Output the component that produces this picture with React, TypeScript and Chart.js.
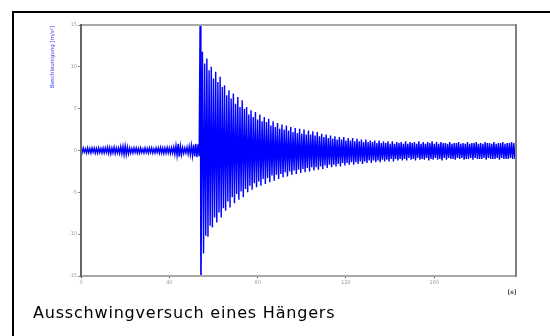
import React, { useEffect, useRef } from "react";
import { Chart, registerables } from "chart.js";

Chart.register(...registerables);

// Time axis [s] and acceleration axis [m/s²]
const xTickValues = [0, 40, 80, 120, 160];
const yTickValues = [-15, -10, -5, 0, 5, 10, 15];
const xMin = 0;
const xMax = 197;
const yMin = -15;
const yMax = 15;

// One oscillation cycle per second: upper peak at t, lower peak at t + 0.5
const sampleInterval = 1;

// Background noise before the excitation, t = 0 … 53 s
const preStart = 0;
const preUpper = [
  0.2, 0.3, 0.2, 0.3, 0.25, 0.3, 0.3, 0.25, 0.3, 0.25,
  0.3, 0.3, 0.4, 0.35, 0.3, 0.4, 0.3, 0.3, 0.45, 0.5,
  0.55, 0.4, 0.3, 0.25, 0.3, 0.3, 0.25, 0.3, 0.2, 0.3,
  0.25, 0.3, 0.3, 0.2, 0.3, 0.3, 0.35, 0.3, 0.3, 0.35,
  0.3, 0.35, 0.4, 0.6, 0.8, 0.55, 0.35, 0.3, 0.4, 0.5,
  0.6, 0.7, 0.8, 0.75,
];
const preLower = [
  -0.25, -0.2, -0.3, -0.25, -0.3, -0.2, -0.3, -0.3, -0.25, -0.3,
  -0.3, -0.25, -0.35, -0.4, -0.3, -0.35, -0.3, -0.35, -0.4, -0.5,
  -0.5, -0.4, -0.3, -0.3, -0.25, -0.3, -0.3, -0.25, -0.3, -0.25,
  -0.3, -0.25, -0.3, -0.3, -0.25, -0.3, -0.3, -0.35, -0.3, -0.3,
  -0.35, -0.3, -0.45, -0.6, -0.75, -0.5, -0.35, -0.3, -0.4, -0.5,
  -0.65, -0.7, -0.8, -0.7,
];

// Excitation impulse (clipped by the axis range)
const impulseTimes = [54, 54.3];
const impulseValues = [18, -18];

// Decaying free vibration, t = 55 … 197 s
const decayStart = 55;
const decayUpper = [
  11.8, 10.4, 11.0, 9.6, 10.0, 8.6, 9.4, 8.2, 8.8, 7.6,
  7.8, 6.6, 7.2, 6.2, 6.8, 5.6, 6.4, 5.2, 6.0, 5.0,
  5.2, 4.3, 4.8, 4.0, 4.6, 3.7, 4.3, 3.5, 4.0, 3.4,
  3.8, 3.0, 3.5, 2.8, 3.3, 2.6, 3.1, 2.5, 3.0, 2.4,
  2.8, 2.2, 2.7, 2.1, 2.6, 2.0, 2.5, 1.9, 2.4, 1.9,
  2.3, 1.8, 2.2, 1.7, 2.0, 1.6, 1.9, 1.5, 1.8, 1.4,
  1.7, 1.3, 1.6, 1.3, 1.6, 1.2, 1.5, 1.2, 1.5, 1.1,
  1.4, 1.1, 1.3, 1.0, 1.3, 1.0, 1.2, 1.0, 1.2, 0.9,
  1.2, 0.9, 1.1, 0.9, 1.1, 0.8, 1.1, 0.8, 1.0, 0.9,
  1.0, 0.8, 1.1, 0.8, 1.0, 0.9, 1.0, 0.8, 1.1, 0.8,
  1.0, 0.8, 1.0, 0.9, 1.1, 0.8, 1.0, 0.8, 1.0, 0.9,
  0.9, 0.8, 1.0, 0.8, 0.9, 0.9, 1.0, 0.8, 0.9, 0.8,
  1.0, 0.8, 0.9, 0.9, 1.0, 0.8, 0.9, 0.8, 1.0, 0.9,
  0.9, 0.8, 1.0, 0.8, 0.9, 0.9, 1.0, 0.8, 0.9, 0.9,
  1.0, 0.9, 0.9,
];
const decayLower = [
  -12.3, -10.2, -10.3, -9.0, -9.2, -8.0, -8.6, -7.4, -8.0, -6.9,
  -7.2, -6.1, -6.8, -5.6, -6.3, -5.2, -5.9, -4.9, -5.6, -4.6,
  -5.0, -4.2, -4.7, -3.9, -4.4, -3.7, -4.2, -3.4, -4.0, -3.3,
  -3.8, -3.0, -3.6, -2.9, -3.4, -2.8, -3.2, -2.6, -3.1, -2.5,
  -2.9, -2.4, -2.8, -2.3, -2.7, -2.2, -2.6, -2.1, -2.5, -2.0,
  -2.4, -2.0, -2.3, -1.9, -2.2, -1.8, -2.1, -1.7, -2.0, -1.7,
  -1.9, -1.6, -1.9, -1.5, -1.8, -1.5, -1.7, -1.4, -1.7, -1.4,
  -1.6, -1.3, -1.6, -1.3, -1.5, -1.2, -1.5, -1.2, -1.4, -1.2,
  -1.4, -1.1, -1.3, -1.1, -1.3, -1.0, -1.3, -1.0, -1.2, -1.0,
  -1.2, -1.0, -1.2, -0.9, -1.1, -1.0, -1.2, -0.9, -1.1, -1.0,
  -1.1, -0.9, -1.2, -1.0, -1.1, -0.9, -1.1, -1.0, -1.2, -0.9,
  -1.1, -0.9, -1.0, -1.0, -1.1, -0.9, -1.0, -0.9, -1.1, -1.0,
  -1.0, -0.9, -1.1, -0.9, -1.0, -1.0, -1.0, -0.9, -1.1, -0.9,
  -1.0, -1.0, -1.0, -0.9, -1.1, -0.9, -1.0, -1.0, -1.0, -0.9,
  -1.0, -1.0, -1.0,
];

const yTitle = "Beschleunigung [m/s²]";
const xUnit = "[s]";
const caption = "Ausschwingversuch eines Hängers";

function buildPoints() {
  const pts: { x: number; y: number }[] = [];
  preUpper.forEach((v, i) => {
    const t = preStart + i * sampleInterval;
    pts.push({ x: t, y: v });
    pts.push({ x: t + sampleInterval / 2, y: preLower[i] });
  });
  impulseTimes.forEach((t, i) => pts.push({ x: t, y: impulseValues[i] }));
  decayUpper.forEach((v, i) => {
    const t = decayStart + i * sampleInterval;
    pts.push({ x: t, y: v });
    pts.push({ x: t + sampleInterval / 2, y: decayLower[i] });
  });
  return pts;
}

const framePlugin = {
  id: "frame",
  afterDraw(chart: any) {
    const { ctx, chartArea } = chart;
    const { left, right, top, bottom } = chartArea;
    ctx.save();
    ctx.lineWidth = 2;
    ctx.strokeStyle = "#a8a8a8";
    ctx.beginPath();
    ctx.moveTo(left, top);
    ctx.lineTo(right, top);
    ctx.moveTo(left, bottom);
    ctx.lineTo(right, bottom);
    ctx.stroke();
    ctx.strokeStyle = "#808080";
    ctx.beginPath();
    ctx.moveTo(right, top - 1);
    ctx.lineTo(right, bottom + 1);
    ctx.stroke();
    ctx.strokeStyle = "#666666";
    ctx.beginPath();
    ctx.moveTo(left, top - 1);
    ctx.lineTo(left, bottom + 1);
    ctx.stroke();

    // y-axis title
    ctx.fillStyle = "#3a3ae8";
    ctx.font = "5.5px 'DejaVu Sans'";
    ctx.textAlign = "center";
    ctx.textBaseline = "middle";
    ctx.translate(53, 57);
    ctx.rotate(-Math.PI / 2);
    ctx.fillText(yTitle, 0, 0);
    ctx.restore();

    // x unit
    ctx.save();
    ctx.fillStyle = "#555555";
    ctx.font = "bold 6px 'DejaVu Sans'";
    ctx.textAlign = "center";
    ctx.textBaseline = "middle";
    ctx.fillText(xUnit, 512, 292);
    ctx.restore();
  },
};

export default function App() {
  const canvasRef = useRef<HTMLCanvasElement | null>(null);

  useEffect(() => {
    if (!canvasRef.current) return;
    const chart = new Chart(canvasRef.current, {
      type: "line",
      data: {
        datasets: [
          {
            data: buildPoints(),
            borderColor: "#0000ff",
            borderWidth: 1.4,
            pointRadius: 0,
            tension: 0,
            fill: false,
          },
        ],
      },
      options: {
        animation: false,
        responsive: false,
        devicePixelRatio: 1,
        layout: { padding: { left: 0, top: 25, right: 34, bottom: 0 } },
        plugins: {
          legend: { display: false },
          tooltip: { enabled: false },
        },
        scales: {
          x: {
            type: "linear",
            min: xMin,
            max: xMax,
            afterBuildTicks: (scale: any) => {
              scale.ticks = xTickValues.map((v) => ({ value: v }));
            },
            afterFit: (scale: any) => {
              scale.height = 60;
            },
            border: { display: false },
            grid: {
              drawOnChartArea: false,
              drawTicks: true,
              tickLength: 2,
              color: "#444444",
            },
            ticks: {
              font: { size: 5, family: "DejaVu Sans" },
              color: "#9a9a9a",
              padding: 2,
              maxRotation: 0,
              autoSkip: false,
            },
          },
          y: {
            type: "linear",
            min: yMin,
            max: yMax,
            afterBuildTicks: (scale: any) => {
              scale.ticks = yTickValues.map((v) => ({ value: v }));
            },
            afterFit: (scale: any) => {
              scale.width = 81;
            },
            border: { display: false },
            grid: {
              drawOnChartArea: false,
              drawTicks: true,
              tickLength: 3,
              color: "#888888",
            },
            ticks: {
              font: { size: 5, family: "DejaVu Sans" },
              color: "#9a9a9a",
              padding: 1,
              autoSkip: false,
            },
          },
        },
      },
      plugins: [framePlugin],
    });
    return () => chart.destroy();
  }, []);

  return (
    <div
      style={{
        position: "fixed",
        left: 0,
        top: 0,
        width: 550,
        height: 336,
        background: "#ffffff",
        overflow: "hidden",
      }}
    >
      <div
        style={{
          position: "absolute",
          left: 12,
          top: 11,
          width: 600,
          height: 400,
          border: "2px solid #000000",
          boxSizing: "border-box",
        }}
      />
      <canvas
        ref={canvasRef}
        width={550}
        height={336}
        style={{ position: "absolute", left: 0, top: 0, width: 550, height: 336 }}
      />
      <div
        style={{
          position: "absolute",
          left: 33,
          top: 303,
          fontFamily: "'DejaVu Sans', sans-serif",
          fontSize: 16,
          letterSpacing: "0.8px",
          color: "#000000",
          whiteSpace: "nowrap",
          lineHeight: "20px",
        }}
      >
        {caption}
      </div>
    </div>
  );
}
